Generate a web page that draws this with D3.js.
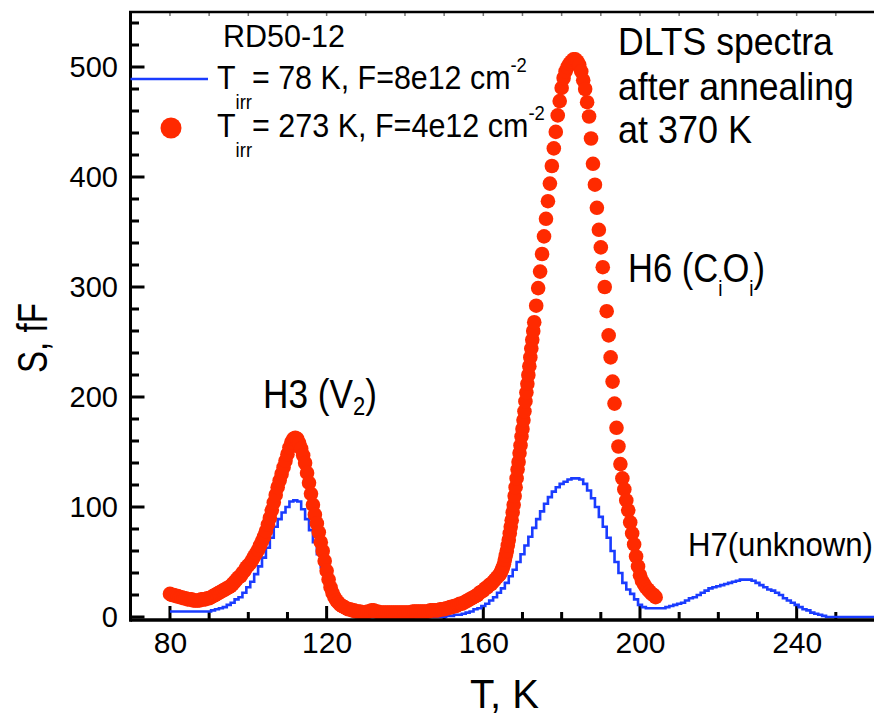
<!DOCTYPE html>
<html>
<head>
<meta charset="utf-8">
<script src="https://cdn.jsdelivr.net/npm/d3@7"></script>
<style>
  html, body { margin: 0; padding: 0; background: #fff; }
  svg { display: block; }
  text { font-family: "Liberation Sans", Arial, sans-serif; fill: #000; }
</style>
</head>
<body>
<script>
// DLTS spectra of RD50-12 after annealing at 370 K

// Sample irradiated at 78 K (solid line), 1 K grid
const blueTemp = [
  80,81,82,83,84,85,86,87,88,89,
  90,91,92,93,94,95,96,97,98,99,
  100,101,102,103,104,105,106,107,108,109,
  110,111,112,113,114,115,116,117,118,119,
  120,121,122,123,124,125,126,127,128,129,
  130,131,132,133,134,135,136,137,138,139,
  140,141,142,143,144,145,146,147,148,149,
  150,151,152,153,154,155,156,157,158,159,
  160,161,162,163,164,165,166,167,168,169,
  170,171,172,173,174,175,176,177,178,179,
  180,181,182,183,184,185,186,187,188,189,
  190,191,192,193,194,195,196,197,198,199,
  200,201,202,203,204,205,206,207,208,209,
  210,211,212,213,214,215,216,217,218,219,
  220,221,222,223,224,225,226,227,228,229,
  230,231,232,233,234,235,236,237,238,239,
  240,241,242,243,244,245,246,247,248,249,
  250,251,252,253,254,255,256,257,258,259,260
];
const blueSignal = [
  5,5,5,5,5,5,5,5,5,5,
  5,6,7,8,9,11,13,16,18,22,
  27,32,39,46,54,63,72,82,89,95,
  100,105,106,105,98,89,79,68,57,45,
  34,24,16,10,6,3,2,1,0,0,
  0,0,0,0,0,0,0,0,0,0,
  0,0,0,0,0,0,0,0,0,0,
  0,1,1,2,2,3,4,5,7,8,
  10,12,15,18,22,26,31,37,43,50,
  57,65,73,81,89,96,103,109,114,118,
  121,123,125,126,126,125,121,115,108,100,
  91,82,72,60,50,40,31,25,21,16,
  11,9,8,8,8,8,8,9,10,11,
  12,13,15,17,18,20,22,24,26,27,
  28,29,30,31,32,33,34,34,34,33,
  31,29,27,25,24,22,20,17,15,13,
  11,9,7,6,4,3,2,1,0,0,
  0,0,0,0,0,0,0,0,0,0,0
];

// Sample irradiated at 273 K (dots); denser sampling on the steep low-T flank of H6
const redTemp = [
  80,80.5,81,81.5,82,82.5,83,83.5,84,84.5,
  85,85.5,86,86.5,87,87.5,88,88.5,89,89.5,
  90,90.5,91,91.5,92,92.5,93,93.5,94,94.5,
  95,95.5,96,96.5,97,97.5,98,98.5,99,99.5,
  100,100.5,101,101.5,102,102.5,103,103.5,104,104.5,
  105,105.5,106,106.5,107,107.5,108,108.5,109,109.5,
  110,110.5,111,111.5,112,112.5,113,113.5,114,114.5,
  115,115.5,116,116.5,117,117.5,118,118.5,119,119.5,
  120,120.5,121,121.5,122,122.5,123,123.5,124,124.5,
  125,125.5,126,126.5,127,127.5,128,128.5,129,129.5,
  130,130.5,131,131.5,132,132.5,133,133.5,134,134.5,
  135,135.5,136,136.5,137,137.5,138,138.5,139,139.5,
  140,140.5,141,141.5,142,142.5,143,143.5,144,144.5,
  145,145.5,146,146.5,147,147.5,148,148.5,149,149.5,
  150,150.5,151,151.5,152,152.5,153,153.5,154,154.5,
  155,155.5,156,156.5,157,157.5,158,158.5,159,159.5,
  160,160.5,161,161.5,162,162.5,163,163.5,
  164,164.25,164.5,164.75,165,165.25,165.5,165.75,
  166,166.25,166.5,166.75,167,167.25,167.5,167.75,
  168,168.25,168.5,168.75,169,169.25,169.5,169.75,
  170,170.25,170.5,170.75,171,171.25,171.5,171.75,
  172,172.25,172.5,172.75,
  173,173.5,174,174.5,175,175.5,176,176.5,177,177.5,
  178,178.5,179,179.5,180,180.5,181,181.5,182,182.5,
  183,183.5,184,184.5,185,185.5,186,186.5,187,187.5,
  188,188.5,189,189.5,190,190.5,191,191.5,192,192.5,
  193,193.5,194,194.5,195,195.5,196,196.5,197,197.5,
  198,198.5,199,199.5,200,200.5,201,201.5,202,202.5,
  203,203.5,204
];
const redSignal = [
  21,20,20,19,19,18,18,17,17,16,
  16,16,15,15,15,15,16,16,16,17,
  17,18,19,20,21,22,23,24,25,26,
  27,28,30,32,34,36,37,40,42,45,
  47,49,52,55,58,61,65,69,73,78,
  84,90,97,104,111,118,124,130,136,142,
  148,154,159,162,163,162,158,153,147,140,
  131,122,112,102,93,85,77,68,60,51,
  42,34,27,22,18,15,13,11,10,9,
  8,7,7,6,6,5,5,5,4,4,
  4,5,5,6,6,5,5,4,4,4,
  4,4,4,4,4,4,4,4,4,4,
  4,4,4,4,5,5,5,5,5,5,
  5,5,5,6,6,6,6,6,7,7,
  7,8,8,9,9,10,10,11,12,12,
  13,14,15,16,17,18,19,20,22,23,
  24,26,27,29,30,32,34,36,
  38,39,41,43,45,48,52,56,
  60,65,70,76,82,88,95,102,
  110,118,126,134,141,149,156,164,
  171,179,187,196,204,212,220,228,
  236,244,252,260,
  268,283,299,314,330,346,362,378,394,410,
  426,441,456,469,481,490,496,500,503,505,
  507,507,505,502,496,488,480,468,455,435,
  412,393,372,352,336,318,300,278,256,236,
  214,194,172,155,139,126,116,106,97,86,
  76,66,55,46,38,33,30,27,25,23,
  21,20,18
];

// Axis ticks
const xMajorTicks = [80, 120, 160, 200, 240];
const xMinorTicks = [90, 100, 110, 130, 140, 150, 170, 180, 190, 210, 220, 230, 250];
const xTopTicks = [80, 90, 100, 110, 120, 130, 140, 150, 160, 170, 180, 190, 200, 210, 220, 230, 240, 250];
const yMajorTicks = [0, 100, 200, 300, 400, 500];
const yMinorTicks = [20, 40, 60, 80, 120, 140, 160, 180, 220, 240, 260, 280,
                     320, 340, 360, 380, 420, 440, 460, 480, 520, 540];

const legendTitle = "RD50-12";
const seriesNames = [
  { lead: "T", sub: "irr", main: "= 78 K, F=8e12 cm", sup: "-2" },
  { lead: "T", sub: "irr", main: "= 273 K, F=4e12 cm", sup: "-2" }
];
const noteLines = ["DLTS spectra", "after annealing", "at 370 K"];

const W = 874, H = 717;
const BLUE = "#1a3cff", RED = "#ff2a00";

const svg = d3.select("body").append("svg").attr("width", W).attr("height", H);

const x = d3.scaleLinear().domain([70, 260]).range([130.8, 875]);
const y = d3.scaleLinear().domain([0, 550]).range([617, 12]);

const axisY = 620, axisX = 130.5;

// narrow a text horizontally about its start so it spans the given width
function fitScale(sel, x0, target) {
  const w = sel.node().getComputedTextLength();
  const k = target / w;
  sel.attr("transform", `translate(${x0},0) scale(${k.toFixed(4)},1) translate(${-x0},0)`);
  return sel;
}

// ---- tick labels (d3 axes) ----
const gx = svg.append("g").attr("transform", `translate(0,${axisY})`)
  .call(d3.axisBottom(x).tickValues(xMajorTicks).tickSize(0).tickPadding(11.7));
gx.select(".domain").remove();
gx.selectAll(".tick text").attr("font-size", 30).attr("font-family", "Liberation Sans, Arial, sans-serif").attr("fill", "#000");

const gy = svg.append("g").attr("transform", `translate(${axisX},0)`)
  .call(d3.axisLeft(y).tickValues(yMajorTicks).tickSize(0).tickPadding(12.5));
gy.select(".domain").remove();
gy.selectAll(".tick text").attr("font-size", 29).attr("font-family", "Liberation Sans, Arial, sans-serif").attr("fill", "#000");

// ---- tick marks, pointing into the plot ----
function tickPath(values, pos, fixed, len, vertical) {
  return values.map(v => vertical
    ? `M${pos(v).toFixed(2)},${fixed}v${len}`
    : `M${fixed},${pos(v).toFixed(2)}h${len}`).join("");
}
svg.append("path").attr("d", tickPath(xMajorTicks, x, axisY, -14, true))
  .attr("fill", "none").attr("stroke", "#000").attr("stroke-width", 3);
svg.append("path").attr("d", tickPath(xMinorTicks, x, axisY, -8, true))
  .attr("fill", "none").attr("stroke", "#000").attr("stroke-width", 3);
svg.append("path").attr("d", tickPath(yMajorTicks, y, axisX, 14, false))
  .attr("fill", "none").attr("stroke", "#000").attr("stroke-width", 3);
svg.append("path").attr("d", tickPath(yMinorTicks, y, axisX, 8.5, false))
  .attr("fill", "none").attr("stroke", "#000").attr("stroke-width", 3);
svg.append("path").attr("d", tickPath(xTopTicks, x, 12, 4, true))
  .attr("fill", "none").attr("stroke", "#777").attr("stroke-width", 1.5);

// ---- data ----
const blueData = blueTemp.map((t, i) => [t, blueSignal[i]]);
const redData = redTemp.map((t, i) => [t, redSignal[i]]);

svg.append("path")
  .datum(blueData)
  .attr("fill", "none")
  .attr("stroke", BLUE)
  .attr("stroke-width", 2.6)
  .attr("d", d3.line().x(d => x(d[0])).y(d => y(d[1])).curve(d3.curveStep));

svg.append("g").selectAll("circle")
  .data(redData)
  .join("circle")
  .attr("cx", d => x(d[0]))
  .attr("cy", d => y(d[1]))
  .attr("r", 7.3)
  .attr("fill", RED);

// ---- frame ----
svg.append("path")
  .attr("d", `M${axisX},${axisY}H${W}`)
  .attr("fill", "none").attr("stroke", "#000").attr("stroke-width", 3.5);
svg.append("path")
  .attr("d", `M${axisX},11V${axisY + 1.75}`)
  .attr("fill", "none").attr("stroke", "#000").attr("stroke-width", 3);
svg.append("path")
  .attr("d", `M${axisX - 1.5},12H${W}`)
  .attr("fill", "none").attr("stroke", "#000").attr("stroke-width", 2.5);

// ---- axis titles ----
fitScale(svg.append("text").attr("x", 470).attr("y", 708).attr("font-size", 41).text("T, K"), 470, 69);
const sTitle = svg.append("text").attr("x", 0).attr("y", 0).attr("font-size", 42).text("S, fF");
const sK = 70 / sTitle.node().getComputedTextLength();
sTitle.attr("transform", `translate(47,373) rotate(-90) scale(${sK.toFixed(4)},1)`);

// ---- peak labels ----
const h3 = svg.append("text").attr("x", 263).attr("y", 408).attr("font-size", 40);
h3.append("tspan").text("H3 (V");
h3.append("tspan").attr("font-size", 25).attr("dy", 7).text("2");
h3.append("tspan").attr("dy", -7).text(")");
fitScale(h3, 263, 114);

const h6 = svg.append("text").attr("x", 628).attr("y", 282).attr("font-size", 40);
h6.append("tspan").text("H6 (C");
h6.append("tspan").attr("font-size", 22).attr("dy", 14).text("i");
h6.append("tspan").attr("dy", -14).text("O");
h6.append("tspan").attr("font-size", 22).attr("dy", 14).text("i");
h6.append("tspan").attr("dy", -14).text(")");
fitScale(h6, 628, 137);

fitScale(svg.append("text").attr("x", 688).attr("y", 556).attr("font-size", 34).text("H7(unknown)"), 688, 185);

// ---- annotation ----
const noteBase = [55, 100, 143];
const noteWidth = [215, 236, 134];
noteLines.forEach((s, i) => {
  fitScale(svg.append("text").attr("x", 618).attr("y", noteBase[i]).attr("font-size", 39).text(s), 618, noteWidth[i]);
});

// ---- legend ----
fitScale(svg.append("text").attr("x", 223).attr("y", 47).attr("font-size", 32).text(legendTitle), 223, 122);

svg.append("path").attr("d", `M${axisX},79H208`)
  .attr("fill", "none").attr("stroke", BLUE).attr("stroke-width", 2.6);
svg.append("circle").attr("cx", 171).attr("cy", 128).attr("r", 10.5).attr("fill", RED);

const rowBase = [89, 137];
const rowWidth = [310, 328];
seriesNames.forEach((s, i) => {
  const t = svg.append("text").attr("x", 217).attr("y", rowBase[i]).attr("font-size", 33);
  t.append("tspan").text(s.lead);
  t.append("tspan").attr("font-size", 20).attr("dy", 20).text(s.sub);
  t.append("tspan").attr("dy", -20).text(s.main);
  t.append("tspan").attr("font-size", 20).attr("dy", -17).text(s.sup);
  fitScale(t, 217, rowWidth[i]);
});
</script>
</body>
</html>
